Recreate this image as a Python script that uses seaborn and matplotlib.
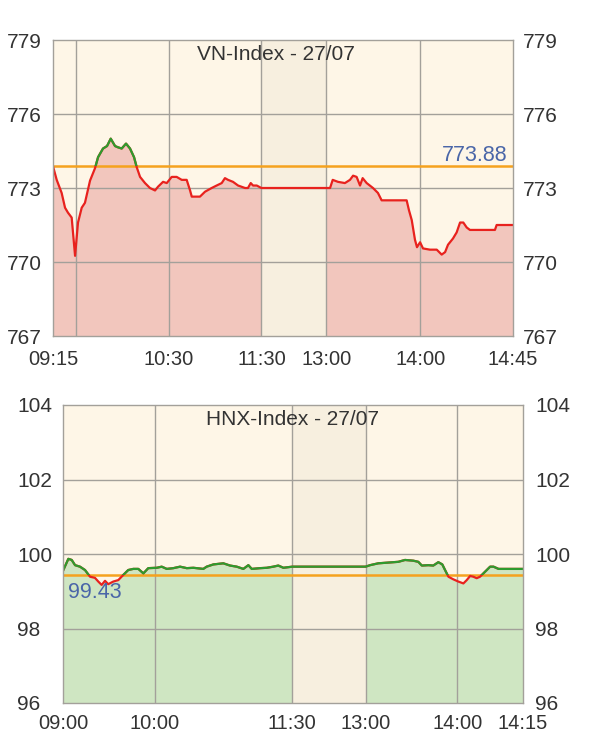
import numpy as np
import pandas as pd
import matplotlib
matplotlib.use("Agg")
import matplotlib.pyplot as plt
from matplotlib.patches import Rectangle
import seaborn as sns

# ---------------- data ----------------
# x = position on the (lunch-compressed) session axis, y = index value
vn_title = "VN-Index - 27/07"
vn_ref = 773.88
vn_x = [0, 2.4, 5.6, 7.8, 9.7, 12.1, 14.3, 16.2, 18.6, 20.7, 24, 27.2, 29.2, 32.4, 35,
        37.4, 40.2, 42.1, 44.5, 47.3, 49.9, 52.5, 54.2, 56.4, 59.6, 62.8, 66.1, 68,
        71.3, 73.7, 76.9, 80.1, 83.4, 86.6, 88.8, 89.9, 93.9, 95.2, 98.5, 102.8, 106,
        109.3, 111.4, 113.4, 116.6, 119.9, 124.4, 126.3, 128.1, 129.6, 132, 135,
        177, 179.5, 181.2, 184.6, 189.1, 192.4, 194.4, 196.7, 198.9, 200.6, 203.2,
        207.3, 210.5, 212.9, 216.2, 229.1, 230.6, 232.4, 234.5, 235.8, 237.8, 239.7,
        244.2, 248.6, 251.8, 254, 255.9, 259.1, 261.5, 263.7, 265.8, 268, 270.1,
        286.3, 287.4, 298]
vn_y = [773.88, 773.33, 772.8, 772.2, 772.0, 771.8, 770.25, 771.6, 772.2, 772.4, 773.3,
        773.8, 774.25, 774.6, 774.7, 775.0, 774.7, 774.65, 774.6, 774.8, 774.6, 774.25,
        773.85, 773.45, 773.2, 773.0, 772.9, 773.05, 773.25, 773.2, 773.45, 773.45,
        773.33, 773.33, 772.9, 772.65, 772.65, 772.65, 772.85, 773.0, 773.1, 773.2,
        773.4, 773.33, 773.25, 773.1, 773.0, 773.0, 773.2, 773.1, 773.1, 773.0,
        773.0, 773.0, 773.33, 773.25, 773.2, 773.33, 773.5, 773.45, 773.1, 773.4,
        773.2, 773.0, 772.8, 772.5, 772.5, 772.5, 772.1, 771.7, 770.9, 770.6, 770.8,
        770.55, 770.5, 770.5, 770.3, 770.4, 770.7, 770.95, 771.2, 771.6, 771.6, 771.4,
        771.3, 771.3, 771.5, 771.5]
vn_lunch = (135, 177)
vn_xticks = [0, 15, 75, 135, 177, 238, 298]
vn_xlabels = ["09:15", "", "10:30", "11:30", "13:00", "14:00", "14:45"]
vn_yticks = [767, 770, 773, 776, 779]

hnx_title = "HNX-Index - 27/07"
hnx_ref = 99.43
hnx_x = [0, 3.5, 5.7, 7.9, 11.1, 14.4, 17.7, 20.9, 23.1, 25.3, 27.5, 29.6, 32.9, 36.2,
         39.5, 42.7, 46, 49.3, 52.6, 55.8, 61.3, 64.6, 67.9, 72.2, 76.6, 81, 85.3,
         91.8, 94, 98.4, 104.9, 109.3, 113.7, 118, 121.3, 123.5, 129, 133.3, 137.6,
         140.9, 144.2, 150,
         198, 200.9, 206.3, 212.9, 219.4, 223.8, 229.3, 232.5, 234.8, 239.1, 242.3,
         245.6, 248.2, 250, 252.2, 255.4, 258.7, 262, 264.2, 266.4, 268.5, 270.7,
         272.9, 275.1, 277.3, 279.5, 281.7, 285, 301]
hnx_y = [99.55, 99.87, 99.84, 99.7, 99.66, 99.57, 99.39, 99.36, 99.26, 99.17, 99.28,
         99.19, 99.26, 99.30, 99.44, 99.57, 99.6, 99.6, 99.48, 99.62, 99.63, 99.66,
         99.6, 99.62, 99.66, 99.62, 99.63, 99.6, 99.66, 99.72, 99.75, 99.69, 99.66,
         99.6, 99.7, 99.6, 99.62, 99.63, 99.66, 99.69, 99.63, 99.66,
         99.66, 99.7, 99.75, 99.77, 99.79, 99.84, 99.82, 99.79, 99.69, 99.7, 99.69,
         99.78, 99.72, 99.57, 99.39, 99.32, 99.26, 99.21, 99.30, 99.41, 99.39, 99.35,
         99.39, 99.48, 99.57, 99.66, 99.66, 99.6, 99.6]
hnx_lunch = (150, 198)
hnx_xticks = [0, 60, 150, 198, 258, 301]
hnx_xlabels = ["09:00", "10:00", "11:30", "13:00", "14:00", "14:15"]
hnx_yticks = [96, 98, 100, 102, 104]

# ---------------- style ----------------
sns.set_theme(style="white")
plt.rcParams["font.family"] = ["Liberation Sans", "DejaVu Sans"]

BG = "#FEF6E7"
LUNCH = "#F7EFDF"
GRID = "#A3A09A"
TXT = "#333333"
RED = "#E8221E"
GREEN = "#2E9B2E"
ORANGE = "#F5A21E"
BLUE = "#4A66A8"

fig = plt.figure(figsize=(5.94, 7.5), dpi=100)
ax1 = fig.add_axes([53 / 594, 1 - 336 / 750, 460 / 594, 296 / 750])
ax2 = fig.add_axes([63 / 594, 1 - 703 / 750, 460 / 594, 298 / 750])


def draw(ax, xs, ys, ref, lunch, xticks, xlabels, yticks, fill, title,
         title_x, ref_label, label_pos, xpad, ypad_r):
    df = pd.DataFrame({"t": xs, "v": ys})
    x = df["t"].to_numpy()
    y = df["v"].to_numpy()
    xmin, xmax = xticks[0], xticks[-1]
    ymin, ymax = yticks[0], yticks[-1]
    ax.set_facecolor(BG)
    ax.axvspan(lunch[0], lunch[1], color=LUNCH, zorder=0.5, lw=0)
    am = x <= lunch[0]
    pm = x >= lunch[1]
    ax.fill_between(x[am], y[am], ymin, color=fill, lw=0, zorder=1)
    ax.fill_between(x[pm], y[pm], ymin, color=fill, lw=0, zorder=1)
    for t in xticks[1:-1]:
        ax.axvline(t, color=GRID, lw=1.0, zorder=1.5)
    for t in yticks[1:-1]:
        ax.axhline(t, color=GRID, lw=1.0, zorder=1.5)
    ax.axhline(ref, color=ORANGE, lw=1.8, zorder=2)
    sns.lineplot(data=df, x="t", y="v", ax=ax, color=RED, lw=1.6,
                 estimator=None, sort=False, zorder=3)
    sns.lineplot(data=df, x="t", y="v", ax=ax, color=GREEN, lw=1.6,
                 estimator=None, sort=False, zorder=4)
    clip = Rectangle((xmin, ref), xmax - xmin, ymax - ref, transform=ax.transData)
    ax.lines[-1].set_clip_path(clip)
    ax.set_xlim(xmin, xmax)
    ax.set_ylim(ymin, ymax)
    ax.set_xticks(xticks)
    ax.set_xticklabels(xlabels)
    ax.set_yticks(yticks)
    ax.set_xlabel("")
    ax.set_ylabel("")
    ax.tick_params(axis="x", length=0, pad=xpad, labelsize=14.5, labelcolor=TXT)
    ax.tick_params(axis="y", length=0, pad=33, labelsize=15, labelcolor=TXT)
    for lab in ax.get_yticklabels():
        lab.set_horizontalalignment("left")
    for sp in ax.spines.values():
        sp.set_color(GRID)
        sp.set_linewidth(1.0)
        sp.set_zorder(5)
    # right-hand duplicate scale
    tw = ax.twinx()
    tw.set_ylim(ymin, ymax)
    tw.set_yticks(yticks)
    tw.tick_params(axis="y", length=0, pad=ypad_r, labelsize=15, labelcolor=TXT)
    tw.grid(False)
    for sp in tw.spines.values():
        sp.set_visible(False)
    ax.text(title_x, 0.95, title, transform=ax.transAxes, ha="center", va="center",
            fontsize=15, color=TXT, zorder=6)
    ax.text(label_pos[0], label_pos[1], ref_label, transform=ax.transAxes,
            ha=label_pos[2], va=label_pos[3], fontsize=15.5, color=BLUE, zorder=6)
    return ax


draw(ax1, vn_x, vn_y, vn_ref, vn_lunch, vn_xticks, vn_xlabels, vn_yticks,
     "#F2C6BD", vn_title, 0.484, f"{vn_ref:.2f}", (0.989, 0.59, "right", "baseline"),
     10, 7)
draw(ax2, hnx_x, hnx_y, hnx_ref, hnx_lunch, hnx_xticks, hnx_xlabels, hnx_yticks,
     "#CFE6C2", hnx_title, 0.5, f"{hnx_ref:.2f}", (0.011, 0.405, "left", "top"),
     8, 9)

fig.savefig("out.png", dpi=100, facecolor="white")
